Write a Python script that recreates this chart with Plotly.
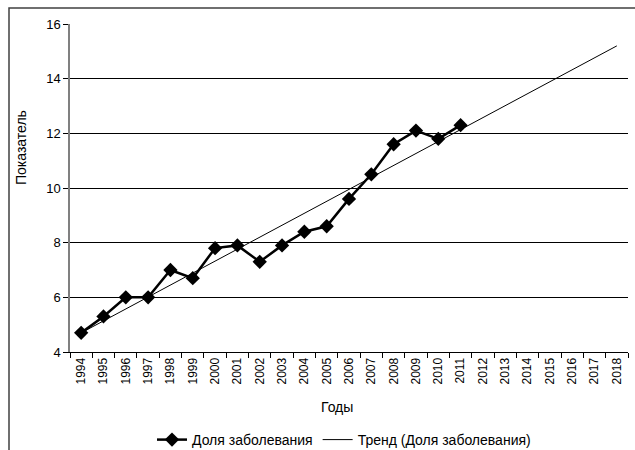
import plotly.graph_objects as go

years = [str(y) for y in range(1994, 2019)]
data_years = [str(y) for y in range(1994, 2012)]
share = [4.7, 5.3, 6.0, 6.0, 7.0, 6.7, 7.8, 7.9, 7.3, 7.9, 8.4, 8.6, 9.6, 10.5, 11.6, 12.1, 11.8, 12.3]
trend_years = ["1994", "2018"]
trend_vals = [4.7, 15.2]

FONT = "Liberation Sans, Arial, sans-serif"

fig = go.Figure()
fig.add_trace(go.Scatter(
    x=data_years, y=share, name="Доля заболевания",
    mode="lines+markers",
    line=dict(color="black", width=2.5),
    marker=dict(symbol="diamond", size=11, color="black"),
))
fig.add_trace(go.Scatter(
    x=trend_years, y=trend_vals, name="Тренд (Доля заболевания)",
    mode="lines",
    line=dict(color="black", width=1),
))

L, R, T, B = 70, 7, 24, 98
W, H = 635, 450
pw, ph = W - L - R, H - T - B

def px_x(p):
    return (p - L) / pw

def px_y(p):
    return (H - B - p) / ph

fig.update_layout(
    width=W, height=H,
    margin=dict(l=L, r=R, t=T, b=B, autoexpand=False),
    paper_bgcolor="white", plot_bgcolor="white",
    font=dict(family=FONT, size=13, color="black"),
    showlegend=True,
    legend=dict(orientation="h", x=px_x(344), xanchor="center", y=px_y(440), yanchor="middle",
                font=dict(size=14), bgcolor="rgba(0,0,0,0)", itemwidth=30),
    xaxis=dict(
        type="category", categoryorder="array", categoryarray=years,
        tickvals=years, ticktext=years,
        range=[-0.5, 24.5], tickson="boundaries",
        ticks="outside", ticklen=5, tickcolor="black",
        tickangle=-90, tickfont=dict(size=12),
        showline=True, linecolor="black", linewidth=1,
        showgrid=False, zeroline=False, fixedrange=True,
    ),
    yaxis=dict(
        range=[4, 16], dtick=2, tick0=4,
        ticks="outside", ticklen=5, tickcolor="black",
        tickfont=dict(size=13),
        showline=True, linecolor="#808080", linewidth=1.5,
        showgrid=True, gridcolor="black", gridwidth=1,
        zeroline=False, fixedrange=True,
    ),
    annotations=[
        dict(text="Годы", x=px_x(337), y=px_y(407), xref="paper", yref="paper",
             showarrow=False, xanchor="center", yanchor="middle", font=dict(size=14)),
        dict(text="Показатель", x=px_x(21), y=px_y(148), xref="paper", yref="paper",
             showarrow=False, xanchor="center", yanchor="middle", textangle=-90,
             font=dict(size=14)),
    ],
    shapes=[
        dict(type="rect", xref="paper", yref="paper",
             x0=px_x(9), x1=px_x(700), y0=px_y(520), y1=px_y(8),
             line=dict(color="#404040", width=1.5), layer="below"),
    ],
)

fig.write_html("out.html", config={"displayModeBar": False},
               post_script="document.body.style.margin='0';document.body.style.overflow='hidden';")
